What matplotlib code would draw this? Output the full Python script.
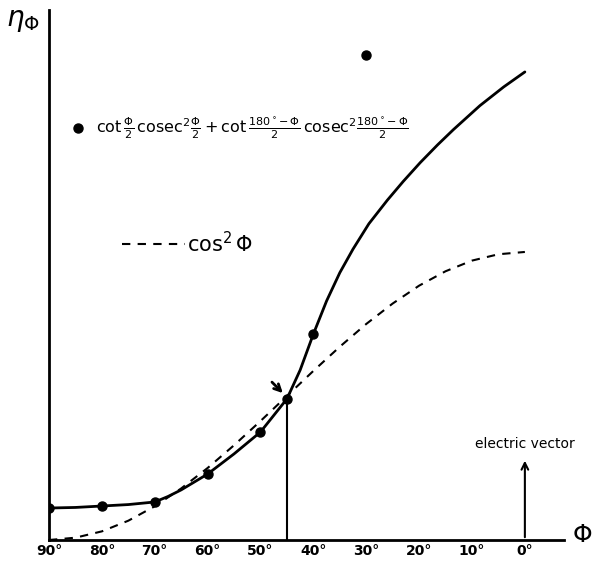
import matplotlib.pyplot as plt

# angle between light and electric vector (degrees) and intensity
curve_phi = [90, 85, 80, 75, 70, 67.5, 65, 60, 55, 50, 45, 42.5, 40, 37.5, 35, 32.5, 29.5, 26,
             23, 19.8, 16.5, 13.5, 8.5, 4, 0]
curve_eta = [0.111, 0.113, 0.118, 0.123, 0.132, 0.151, 0.174, 0.229, 0.299, 0.375, 0.49, 0.59,
             0.715, 0.83, 0.928, 1.01, 1.098, 1.18, 1.245, 1.31, 1.372, 1.425, 1.508, 1.573, 1.625]

point_phi = [90, 80, 70, 60, 50, 45, 40, 30]
point_eta = [0.111, 0.118, 0.132, 0.229, 0.375, 0.49, 0.715, 1.684]

cos_phi = [90, 85, 80, 75, 70, 65, 60, 55, 50, 45, 40, 35, 30, 25, 20, 15, 10, 5, 0]
cos_eta = [0.0, 0.008, 0.03, 0.067, 0.117, 0.179, 0.25, 0.329, 0.413, 0.5, 0.587, 0.671,
           0.75, 0.821, 0.883, 0.933, 0.97, 0.992, 1.0]

tick_phi = [90, 80, 70, 60, 50, 40, 30, 20, 10, 0]
tick_labels = ["90°", "80°", "70°", "60°", "50°", "40°", "30°", "20°", "10°", "0°"]

W, H = 592, 561
fig = plt.figure(figsize=(W / 100, H / 100), dpi=100)
ax = fig.add_axes([49 / W, 21 / H, (564 - 49) / W, (540 - 10) / H])

def fx(px):
    return px / W

def fy(py):
    return 1 - py / H

ax.plot(curve_phi, curve_eta, color="black", linewidth=2.0, solid_capstyle="round",
        solid_joinstyle="round")
ax.plot(cos_phi, cos_eta, color="black", linewidth=1.5, linestyle=(0, (4, 3.5)))
ax.plot(point_phi, point_eta, linestyle="none", marker="o", markersize=6.5, color="black")

# 45 degree crossing
ax.plot([45, 45], [0, 0.49], color="black", linewidth=1.5)
ax.annotate("", xy=(45.4, 0.503), xytext=(48.2, 0.555),
            arrowprops=dict(arrowstyle="->", color="black", lw=2, mutation_scale=12))

# electric vector arrow
ax.annotate("", xy=(0, 0.285), xytext=(0, 0),
            arrowprops=dict(arrowstyle="->", color="black", lw=1.5, mutation_scale=12))
ax.text(0, 0.31, "electric vector", ha="center", va="bottom", fontsize=10)

ax.set_xlim(90, -7.4)
ax.set_ylim(0, 1.84)
ax.set_xticks(tick_phi)
ax.set_xticklabels(tick_labels, fontsize=10, fontweight="bold")
ax.tick_params(axis="x", length=0, pad=3)
ax.set_yticks([])
for side in ["top", "right"]:
    ax.spines[side].set_visible(False)
for side in ["left", "bottom"]:
    ax.spines[side].set_linewidth(2)

# axis names
fig.text(fx(6), fy(6), r"$\eta_{\Phi}$", fontsize=20, ha="left", va="top")
fig.text(fx(572), fy(535), r"$\Phi$", fontsize=18, ha="left", va="center")

# legend
fig.lines.append(plt.Line2D([fx(78)], [fy(128)], marker="o", markersize=6.5, color="black",
                            linestyle="none", transform=fig.transFigure))
fig.text(fx(96), fy(128),
         r"$\cot\frac{\Phi}{2}\,\mathrm{cosec}^2\frac{\Phi}{2}+\cot\frac{180^\circ\!-\Phi}{2}\,\mathrm{cosec}^2\frac{180^\circ\!-\Phi}{2}$",
         fontsize=11.5, ha="left", va="center")
fig.lines.append(plt.Line2D([fx(122), fx(185)], [fy(244), fy(244)], color="black", linewidth=1.5,
                            linestyle=(0, (4, 3.5)), transform=fig.transFigure))
fig.text(fx(187), fy(244), r"$\mathrm{cos}^2\,\Phi$", fontsize=15, ha="left", va="center")

fig.savefig("out.png", dpi=100)
